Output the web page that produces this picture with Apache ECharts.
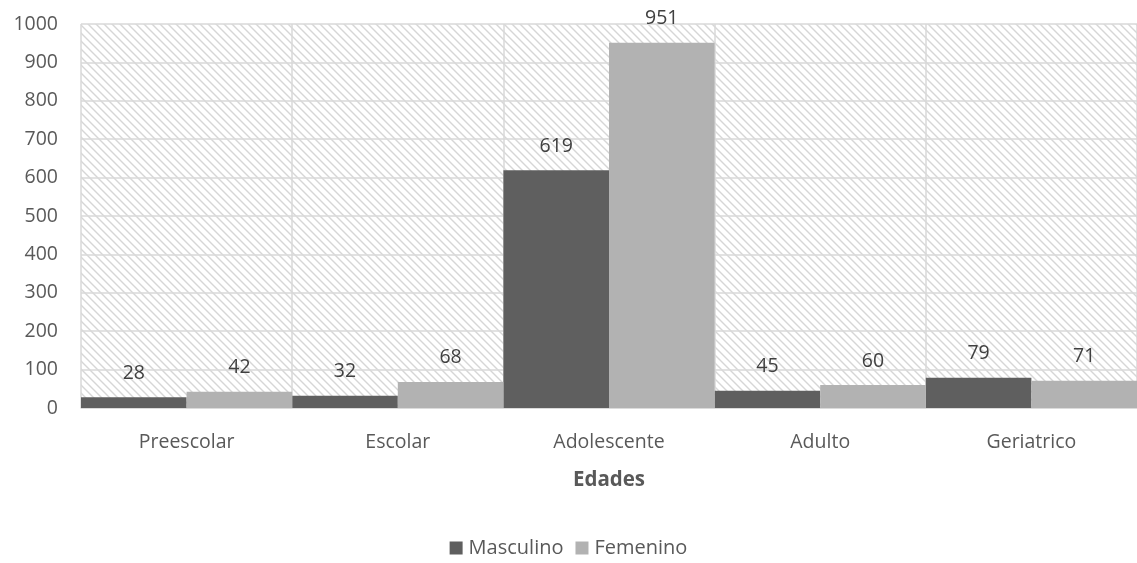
<!DOCTYPE html>
<html>
<head>
<meta charset="utf-8">
<script src="https://cdn.jsdelivr.net/npm/echarts@6/dist/echarts.min.js"></script>
<style>
  html, body { margin: 0; padding: 0; background: #ffffff; }
  #chart { width: 1137px; height: 563px; }
</style>
</head>
<body>
<div id="chart"></div>
<script>
const categories = ['Preescolar', 'Escolar', 'Adolescente', 'Adulto', 'Geriatrico'];
const masculino = [28, 32, 619, 45, 79];
const femenino = [42, 68, 951, 60, 71];
const yTicks = { min: 0, max: 1000, interval: 100 };

// Diagonal hatch used as the plot-area background
function hatchPattern() {
  const size = 8;
  const c = document.createElement('canvas');
  c.width = size; c.height = size;
  const ctx = c.getContext('2d');
  ctx.fillStyle = '#ffffff';
  ctx.fillRect(0, 0, size, size);
  ctx.strokeStyle = '#d6d6d6';
  ctx.lineWidth = 1.4;
  ctx.beginPath();
  ctx.moveTo(-1, -1); ctx.lineTo(size + 1, size + 1);
  ctx.moveTo(-1, size - 1); ctx.lineTo(1, size + 1);
  ctx.moveTo(size - 1, -1); ctx.lineTo(size + 1, 1);
  ctx.stroke();
  return c;
}

const font = "'Open Sans', 'Noto Sans', sans-serif";
const textColor = '#595959';
const fs = 19.5;
const chart = echarts.init(document.getElementById('chart'), null, { renderer: 'canvas' });

chart.setOption({
  animation: false,
  backgroundColor: '#ffffff',
  textStyle: { fontFamily: font },
  grid: {
    left: 81, right: 0, top: 24, bottom: 155,
    show: true,
    backgroundColor: { image: hatchPattern(), repeat: 'repeat' },
    borderWidth: 0
  },
  legend: {
    data: ['Masculino', 'Femenino'],
    bottom: 0,
    left: 'center',
    itemWidth: 13, itemHeight: 13,
    itemGap: 12,
    icon: 'rect',
    textStyle: { color: textColor, fontSize: 20, fontFamily: font, padding: [0, 0, 0, 1] }
  },
  xAxis: {
    type: 'category',
    data: categories,
    name: 'Edades',
    nameLocation: 'middle',
    nameGap: 62,
    nameTextStyle: { color: textColor, fontSize: 20.5, fontWeight: 'bold', fontFamily: font },
    axisLine: { show: true, lineStyle: { color: '#d9d9d9', width: 1.5 } },
    axisTick: { show: false },
    axisLabel: { color: textColor, fontSize: fs, margin: 24, fontFamily: font },
    splitLine: { show: true, lineStyle: { color: '#d9d9d9', width: 1.5 } }
  },
  yAxis: {
    type: 'value',
    min: yTicks.min, max: yTicks.max, interval: yTicks.interval,
    axisLine: { show: false },
    axisTick: { show: false },
    axisLabel: { color: textColor, fontSize: fs, margin: 23, fontFamily: font, formatter: v => String(v) },
    splitLine: { show: true, lineStyle: { color: '#d9d9d9', width: 1.5 } }
  },
  series: [
    {
      name: 'Masculino', type: 'bar', data: masculino,
      barGap: '0%', barCategoryGap: '0%',
      itemStyle: { color: '#5f5f5f' },
      label: { show: true, position: 'top', distance: 14, color: '#404040', fontSize: fs, fontFamily: font }
    },
    {
      name: 'Femenino', type: 'bar', data: femenino,
      barGap: '0%', barCategoryGap: '0%',
      itemStyle: { color: '#b2b2b2' },
      label: { show: true, position: 'top', distance: 14, color: '#404040', fontSize: fs, fontFamily: font }
    }
  ]
});
</script>
</body>
</html>
